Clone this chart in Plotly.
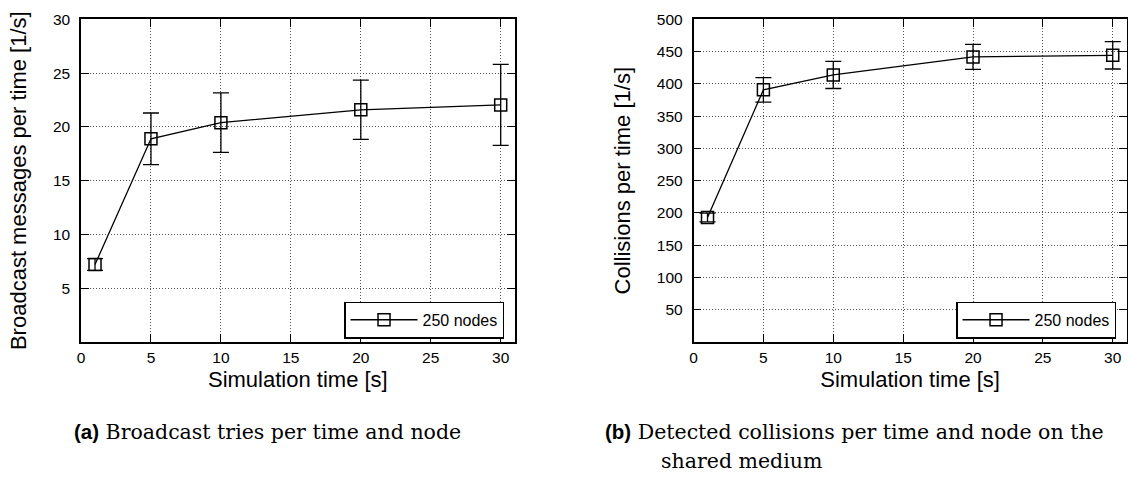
import plotly.graph_objects as go

# ---- data ----
sim_time = [1, 5, 10, 20, 30]
broadcast_rate = [7.2, 18.9, 20.4, 21.6, 22.05]
broadcast_err = [0.55, 2.4, 2.77, 2.75, 3.77]
collision_rate = [193, 391, 414, 442, 444.5]
collision_err = [6.8, 19, 21, 19.3, 21.3]
series_name = "250 nodes"
x_ticks = [0, 5, 10, 15, 20, 25, 30]
y_ticks_a = [5, 10, 15, 20, 25, 30]
y_ticks_b = [50, 100, 150, 200, 250, 300, 350, 400, 450, 500]

W, H = 1128, 478
SANS = "Liberation Sans, Arial, sans-serif"

fig = go.Figure()

def add_series(y, err, xa, ya, legend):
    fig.add_trace(go.Scatter(
        x=sim_time, y=y, name=series_name, mode="lines+markers",
        xaxis=xa, yaxis=ya, legend=legend,
        line=dict(color="black", width=1.3),
        marker=dict(symbol="square-open", size=12, color="black",
                    line=dict(width=1.5, color="black")),
        error_y=dict(type="data", array=err, visible=True, color="black",
                     thickness=1.3, width=8),
        cliponaxis=False,
    ))

add_series(broadcast_rate, broadcast_err, "x", "y", "legend")
add_series(collision_rate, collision_err, "x2", "y2", "legend2")

def px_x(p):
    return p / W

def px_y(p):
    return 1 - p / H

ydom = [px_y(339.3), px_y(10.7)]

axis_common = dict(
    showline=True, linecolor="black", linewidth=1.5, mirror="all",
    ticks="inside", ticklen=8, tickwidth=1.2, tickcolor="black",
    showgrid=True, gridcolor="#555555", griddash="1px,2px", gridwidth=1,
    zeroline=False, tickfont=dict(family=SANS, size=15.5, color="black"),
    title_font=dict(family=SANS, size=22, color="black"),
)

legend_common = dict(
    yanchor="middle", xanchor="right", bgcolor="white",
    bordercolor="black", borderwidth=1.3,
    font=dict(family=SANS, size=16, color="black"), itemwidth=67,
)

fig.update_layout(
    width=W, height=H, margin=dict(l=0, r=0, t=0, b=0),
    paper_bgcolor="white", plot_bgcolor="white",
    xaxis=dict(domain=[px_x(77.3), px_x(512.5)], anchor="y", range=[0, 31],
               tickvals=x_ticks, title=dict(text="Simulation time [s]", standoff=6),
               ticklabelstandoff=1, **axis_common),
    yaxis=dict(domain=ydom, anchor="x", range=[0, 30], tickvals=y_ticks_a,
               title=dict(text="Broadcast messages per time [1/s]", standoff=20),
               ticklabelstandoff=6, **axis_common),
    xaxis2=dict(domain=[px_x(692), px_x(1126.7)], anchor="y2", range=[0, 31],
                tickvals=x_ticks, title=dict(text="Simulation time [s]", standoff=6),
                ticklabelstandoff=1, **axis_common),
    yaxis2=dict(domain=ydom, anchor="x2", range=[0, 500], tickvals=y_ticks_b,
                title=dict(text="Collisions per time [1/s]", standoff=20),
                ticklabelstandoff=6, **axis_common),
    legend=dict(x=px_x(502), y=px_y(317), **legend_common),
    legend2=dict(x=px_x(1116.2), y=px_y(317), **legend_common),
    showlegend=True,
)

SERIF = "DejaVu Serif"
BOLD = "<span style='font-family:Liberation Sans;font-weight:bold'>"
cap_font = dict(family=SERIF, size=20.5, color="black")
fig.add_annotation(x=px_x(68), y=px_y(431), xref="paper", yref="paper",
                   xanchor="left", yanchor="middle", showarrow=False, font=cap_font,
                   text=BOLD + "(a)</span> Broadcast tries per time and node")
fig.add_annotation(x=px_x(601), y=px_y(431), xref="paper", yref="paper",
                   xanchor="left", yanchor="middle", showarrow=False, font=cap_font,
                   text=BOLD + "(b)</span> Detected collisions per time and node on the")
fig.add_annotation(x=px_x(657), y=px_y(461), xref="paper", yref="paper",
                   xanchor="left", yanchor="middle", showarrow=False, font=cap_font,
                   text="shared medium")

fig.write_html("out.html")
